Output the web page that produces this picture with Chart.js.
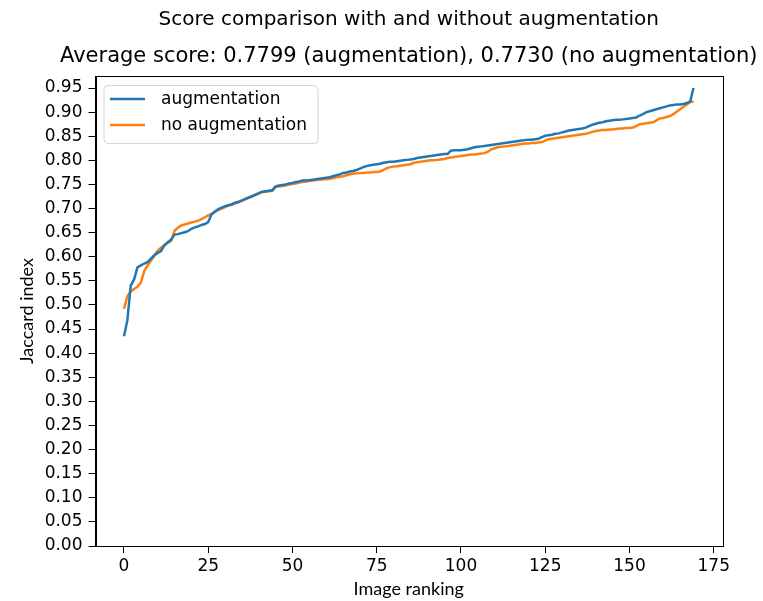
<!DOCTYPE html>
<html>
<head>
<meta charset="utf-8">
<script src="https://cdn.jsdelivr.net/npm/chart.js@4/dist/chart.umd.min.js"></script>
<style>
html,body{margin:0;padding:0;background:#fff;}
#wrap{width:763px;height:601px;}
</style>
</head>
<body>
<div id="wrap"><canvas id="c" width="763" height="601"></canvas></div>
<script>
const chartTitle = "Score comparison with and without augmentation";
const chartSubtitle = "Average score: 0.7799 (augmentation), 0.7730 (no augmentation)";
const seriesNames = ["augmentation", "no augmentation"];
const xTitle = "Image ranking";
const yTitle = "Jaccard index";
const xTicks = [0, 25, 50, 75, 100, 125, 150, 175];
const yTicks = [0,0.05,0.10,0.15,0.20,0.25,0.30,0.35,0.40,0.45,0.50,0.55,0.60,0.65,0.70,0.75,0.80,0.85,0.90,0.95];

const augmentation = [
0.435,0.468,0.540,0.553,0.578,0.582,0.586,0.589,0.596,0.603,
0.608,0.612,0.624,0.630,0.636,0.646,0.647,0.649,0.651,0.653,
0.658,0.661,0.663,0.666,0.668,0.672,0.688,0.694,0.699,0.702,
0.705,0.707,0.709,0.712,0.714,0.717,0.720,0.723,0.726,0.729,
0.732,0.735,0.736,0.737,0.738,0.746,0.748,0.749,0.750,0.752,
0.753,0.755,0.756,0.758,0.758,0.759,0.760,0.761,0.762,0.763,
0.764,0.765,0.767,0.769,0.771,0.774,0.775,0.777,0.778,0.780,
0.783,0.786,0.788,0.790,0.791,0.792,0.793,0.795,0.796,0.797,
0.797,0.798,0.799,0.800,0.801,0.802,0.803,0.805,0.806,0.807,
0.808,0.809,0.810,0.811,0.812,0.813,0.813,0.820,0.821,0.821,
0.821,0.822,0.823,0.825,0.827,0.828,0.829,0.830,0.831,0.832,
0.833,0.834,0.835,0.836,0.837,0.838,0.839,0.840,0.841,0.842,
0.843,0.843,0.844,0.845,0.848,0.851,0.852,0.853,0.855,0.856,
0.858,0.860,0.862,0.863,0.864,0.865,0.866,0.868,0.871,0.874,
0.876,0.878,0.879,0.881,0.882,0.883,0.884,0.884,0.885,0.886,
0.887,0.888,0.889,0.893,0.896,0.900,0.902,0.904,0.906,0.908,
0.910,0.912,0.914,0.915,0.916,0.916,0.917,0.919,0.922,0.950
];
const noAugmentation = [
0.492,0.518,0.528,0.533,0.538,0.546,0.570,0.582,0.592,0.602,
0.613,0.619,0.624,0.629,0.633,0.654,0.660,0.665,0.667,0.669,
0.671,0.673,0.675,0.678,0.682,0.686,0.689,0.693,0.697,0.700,
0.703,0.706,0.708,0.711,0.713,0.716,0.719,0.722,0.725,0.728,
0.731,0.734,0.735,0.736,0.737,0.745,0.746,0.747,0.748,0.750,
0.751,0.752,0.754,0.755,0.756,0.757,0.758,0.759,0.760,0.761,
0.761,0.762,0.763,0.765,0.766,0.767,0.769,0.771,0.772,0.773,
0.774,0.774,0.775,0.775,0.776,0.776,0.777,0.780,0.784,0.786,
0.787,0.788,0.789,0.790,0.791,0.792,0.795,0.796,0.797,0.798,
0.799,0.800,0.800,0.801,0.802,0.803,0.805,0.806,0.807,0.808,
0.809,0.810,0.811,0.812,0.812,0.813,0.814,0.815,0.818,0.823,
0.825,0.827,0.828,0.829,0.830,0.831,0.832,0.833,0.834,0.835,
0.835,0.836,0.836,0.837,0.838,0.841,0.844,0.845,0.846,0.847,
0.848,0.849,0.850,0.851,0.852,0.853,0.854,0.855,0.857,0.859,
0.861,0.862,0.863,0.863,0.864,0.864,0.865,0.866,0.866,0.867,
0.867,0.868,0.871,0.875,0.876,0.877,0.878,0.879,0.883,0.887,
0.888,0.890,0.892,0.896,0.901,0.906,0.911,0.916,0.921,0.922
];

const toPoints = arr => arr.map((v, i) => ({x: i, y: v}));

const frameAndLegend = {
  id: 'frameAndLegend',
  afterDatasetsDraw(chart) {
    const {ctx, chartArea: a} = chart;
    ctx.save();
    ctx.strokeStyle = '#000';
    ctx.lineWidth = 1;
    ctx.strokeRect(Math.round(a.left) + 0.5, Math.round(a.top) + 0.5,
                   Math.round(a.right - a.left), Math.round(a.bottom - a.top));
    // legend
    const bx = a.left + 8.5, by = a.top + 9.5, bw = 214, bh = 58;
    ctx.beginPath();
    ctx.roundRect(bx, by, bw, bh, 4);
    ctx.fillStyle = 'rgba(255,255,255,0.8)';
    ctx.fill();
    ctx.strokeStyle = '#d5d5d5';
    ctx.lineWidth = 1;
    ctx.stroke();
    ctx.font = '17px "DejaVu Sans"';
    ctx.textBaseline = 'middle';
    ctx.textAlign = 'left';
    chart.data.datasets.forEach((ds, i) => {
      const ly = by + 13.5 + i * 26;
      ctx.beginPath();
      ctx.moveTo(bx + 6, ly);
      ctx.lineTo(bx + 41, ly);
      ctx.strokeStyle = ds.borderColor;
      ctx.lineWidth = 2.5;
      ctx.stroke();
      ctx.fillStyle = '#000';
      ctx.fillText(ds.label, bx + 57, ly + 1);
    });
    // subtitle (wider than the plot area, drawn without width compression)
    ctx.font = '21px "DejaVu Sans"';
    ctx.textAlign = 'center';
    ctx.textBaseline = 'middle';
    ctx.fillStyle = '#000';
    ctx.fillText(chartSubtitle, (a.left + a.right) / 2, a.top - 19);
    ctx.restore();
  }
};

new Chart(document.getElementById('c'), {
  type: 'line',
  data: {
    datasets: [
      {label: seriesNames[0], data: toPoints(augmentation), borderColor: '#1f77b4', backgroundColor: '#1f77b4',
       borderWidth: 2.5, pointRadius: 0, tension: 0, fill: false},
      {label: seriesNames[1], data: toPoints(noAugmentation), borderColor: '#ff7f0e', backgroundColor: '#ff7f0e',
       borderWidth: 2.5, pointRadius: 0, tension: 0, fill: false}
    ]
  },
  options: {
    responsive: false,
    animation: false,
    devicePixelRatio: 1,
    layout: {padding: {left: 0, right: 41, top: 0, bottom: 0}},
    plugins: {
      legend: {display: false},
      tooltip: {enabled: false},
      title: {display: true, text: chartTitle, fullSize: false, color: '#000',
              font: {family: 'DejaVu Sans', size: 20, weight: 'normal', lineHeight: 1.2},
              padding: {top: 8, bottom: 44}},
      subtitle: {display: false}
    },
    scales: {
      x: {
        type: 'linear', min: -8.45, max: 177.45,
        afterBuildTicks: s => { s.ticks = xTicks.map(v => ({value: v})); },
        afterFit: s => { s.height = 55; },
        grid: {drawOnChartArea: false, drawTicks: true, tickLength: 7, color: '#000'},
        border: {display: true, color: '#000'},
        ticks: {color: '#000', padding: 3, maxRotation: 0, autoSkip: false,
                font: {family: 'DejaVu Sans', size: 17},
                callback: v => String(v)},
        title: {display: true, text: xTitle, color: '#000',
                font: {family: 'Lato', size: 18}, padding: {top: 0, bottom: 1}}
      },
      y: {
        type: 'linear', min: 0, max: 0.975,
        afterBuildTicks: s => { s.ticks = yTicks.map(v => ({value: v})); },
        afterFit: s => { s.width = 95.5; },
        grid: {drawOnChartArea: false, drawTicks: true, tickLength: 7, color: '#000'},
        border: {display: true, color: '#000'},
        ticks: {color: '#000', padding: 6, autoSkip: false,
                font: {family: 'DejaVu Sans', size: 17},
                callback: v => Number(v).toFixed(2)},
        title: {display: true, text: yTitle, color: '#000',
                font: {family: 'Lato', size: 18}, padding: {top: 16, bottom: 0}}
      }
    }
  },
  plugins: [frameAndLegend]
});
</script>
</body>
</html>
